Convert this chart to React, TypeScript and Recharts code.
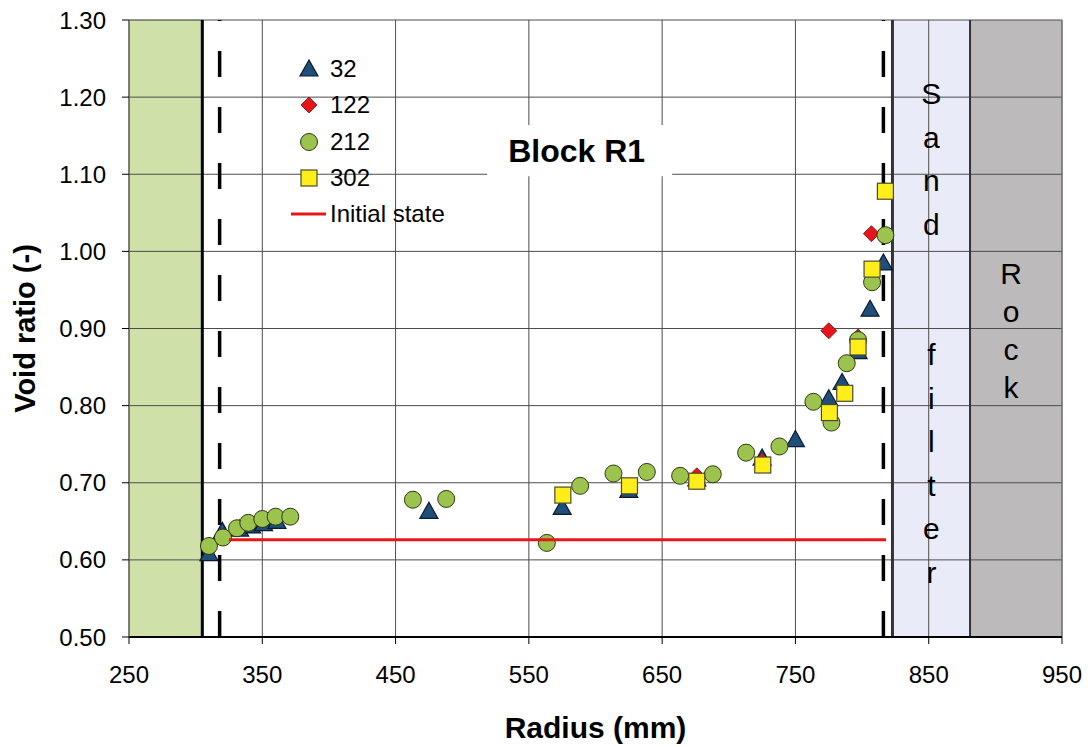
import React from 'react';
import {
  ScatterChart,
  Scatter,
  XAxis,
  YAxis,
  CartesianGrid,
  ReferenceArea,
  ReferenceLine,
  Legend,
  Label,
} from 'recharts';

const FONT = 'Arial, "Liberation Sans", Helvetica, sans-serif';

const xTicks = [250, 350, 450, 550, 650, 750, 850, 950];
const yTicks = [0.5, 0.6, 0.7, 0.8, 0.9, 1.0, 1.1, 1.2, 1.3];

// void ratio vs radius, one array per sampling day
const s32 = [
  { r: 310, e: 0.608 }, { r: 320, e: 0.637 }, { r: 333, e: 0.64 }, { r: 342, e: 0.644 },
  { r: 351, e: 0.647 }, { r: 361, e: 0.65 }, { r: 475, e: 0.663 }, { r: 575, e: 0.668 },
  { r: 625, e: 0.69 }, { r: 676, e: 0.705 }, { r: 725, e: 0.732 }, { r: 750, e: 0.756 },
  { r: 775, e: 0.809 }, { r: 785, e: 0.83 }, { r: 797, e: 0.87 }, { r: 806, e: 0.925 },
  { r: 816, e: 0.985 },
];
const s122 = [
  { r: 676, e: 0.709 }, { r: 725, e: 0.728 }, { r: 775, e: 0.897 }, { r: 797, e: 0.889 },
  { r: 807, e: 1.023 },
];
const s212 = [
  { r: 310, e: 0.618 }, { r: 320.5, e: 0.629 }, { r: 331, e: 0.641 }, { r: 339.5, e: 0.648 },
  { r: 350, e: 0.653 }, { r: 360, e: 0.656 }, { r: 371, e: 0.656 }, { r: 463, e: 0.678 },
  { r: 488, e: 0.679 }, { r: 563.5, e: 0.622 }, { r: 588.5, e: 0.696 }, { r: 613.5, e: 0.712 },
  { r: 638.5, e: 0.714 }, { r: 663.5, e: 0.709 }, { r: 688, e: 0.711 }, { r: 713, e: 0.739 },
  { r: 738, e: 0.747 }, { r: 763.5, e: 0.805 }, { r: 777, e: 0.778 }, { r: 788.5, e: 0.855 },
  { r: 797, e: 0.885 }, { r: 807.5, e: 0.96 }, { r: 817.5, e: 1.021 },
];
const s302 = [
  { r: 575.5, e: 0.684 }, { r: 625.5, e: 0.696 }, { r: 676, e: 0.702 }, { r: 725.5, e: 0.723 },
  { r: 775.5, e: 0.791 }, { r: 787, e: 0.816 }, { r: 797, e: 0.876 }, { r: 807.5, e: 0.977 },
  { r: 817.5, e: 1.078 },
];
const initialState = [{ r: 325, e: 0.626 }, { r: 818, e: 0.626 }];

const sandLetters = ['S', 'a', 'n', 'd', '', '', 'f', 'i', 'l', 't', 'e', 'r'];
const rockLetters = ['R', 'o', 'c', 'k'];

const Triangle = ({ cx, cy }: any) => (
  <polygon
    points={`${cx},${cy - 9} ${cx - 9},${cy + 7} ${cx + 9},${cy + 7}`}
    fill="#1f4e7a"
    stroke="#0b1a2c"
    strokeWidth={1.2}
  />
);
const Diamond = ({ cx, cy }: any) => (
  <polygon
    points={`${cx},${cy - 8} ${cx + 8},${cy} ${cx},${cy + 8} ${cx - 8},${cy}`}
    fill="#e8141b"
    stroke="#7a0d0d"
    strokeWidth={0.8}
  />
);
const Circle = ({ cx, cy }: any) => (
  <circle cx={cx} cy={cy} r={8.5} fill="#9bc34d" stroke="#2c3a12" strokeWidth={1} />
);
const Square = ({ cx, cy }: any) => (
  <rect x={cx - 8} y={cy - 8} width={16} height={16} fill="#ffee1a" stroke="#4a4a30" strokeWidth={1.2} />
);

const legendRows = [
  { name: '32', Shape: Triangle },
  { name: '122', Shape: Diamond },
  { name: '212', Shape: Circle },
  { name: '302', Shape: Square },
];

const renderLegend = () => (
  <div style={{ fontFamily: FONT, fontSize: 24, color: '#000', lineHeight: '36.3px' }}>
    {legendRows.map(({ name, Shape }) => (
      <div key={name} style={{ display: 'flex', alignItems: 'center', height: 36.3 }}>
        <svg width={40} height={36} style={{ display: 'block' }}>
          <Shape cx={19} cy={18} />
        </svg>
        <span>{name}</span>
      </div>
    ))}
    <div style={{ display: 'flex', alignItems: 'center', height: 36.3 }}>
      <svg width={40} height={36} style={{ display: 'block' }}>
        <line x1={1} y1={18} x2={36} y2={18} stroke="#e8161b" strokeWidth={3} />
      </svg>
      <span>Initial state</span>
    </div>
  </div>
);

const letterColumn = (letters: string[], first: number, step: number, dx: number) => (props: any) => {
  const { x, y, width } = props.viewBox;
  return (
    <text fontFamily={FONT} fontSize={30} fill="#000" textAnchor="middle">
      {letters.map((ch, i) =>
        ch ? (
          <tspan key={i} x={x + width / 2 + dx} y={y + first + i * step}>
            {ch}
          </tspan>
        ) : null
      )}
    </text>
  );
};

const blockLabel = (props: any) => {
  const { x, y, width, height } = props.viewBox;
  return (
    <text
      x={x + width / 2 - 3}
      y={y + height / 2 + 11}
      textAnchor="middle"
      fontFamily={FONT}
      fontSize={32}
      fontWeight="bold"
      fill="#000"
    >
      Block R1
    </text>
  );
};

const xTitle = (props: any) => {
  const { x, y, width } = props.viewBox;
  return (
    <text x={x + width / 2} y={y + 101} textAnchor="middle" fontFamily={FONT} fontSize={30} fontWeight="bold" fill="#000">
      Radius (mm)
    </text>
  );
};

const yTitle = (props: any) => {
  const { y, height } = props.viewBox;
  const cx = 27;
  const cy = y + height / 2;
  return (
    <text
      x={cx}
      y={cy}
      transform={`rotate(-90, ${cx}, ${cy})`}
      textAnchor="middle"
      fontFamily={FONT}
      fontSize={29}
      fontWeight="bold"
      fill="#000"
    >
      Void ratio (-)
    </text>
  );
};

export default function App() {
  return (
    <ScatterChart width={1082} height={739} margin={{ top: 12, right: 28, left: 0, bottom: 0 }}>
      <ReferenceArea x1={250} x2={305} fill="#cfe1a9" fillOpacity={1} stroke="#6f8a45" strokeWidth={0.5} zIndex={-200} />
      <ReferenceArea x1={823} x2={881} fill="#e9ecf8" fillOpacity={1} zIndex={-200} />
      <ReferenceArea x1={881} x2={950} fill="#bcbabb" fillOpacity={1} zIndex={-200} />
      <CartesianGrid stroke="#4d4d4d" strokeWidth={1} />
      <ReferenceArea
        x1={518.7}
        x2={657.5}
        y1={1.0975}
        y2={1.164}
        fill="#ffffff"
        fillOpacity={1}
        stroke="none"
        label={blockLabel}
      />
      <ReferenceArea x1={823} x2={881} fill="none" stroke="none" label={letterColumn(sandLetters, 84, 43.5, 0)} />
      <ReferenceArea x1={881} x2={950} fill="none" stroke="none" label={letterColumn(rockLetters, 264, 38, -5)} />
      <XAxis
        type="number"
        dataKey="r"
        domain={[250, 950]}
        ticks={xTicks}
        interval={0}
        height={110}
        tickSize={7}
        tickMargin={22}
        axisLine={{ stroke: '#000', strokeWidth: 2 }}
        tickLine={{ stroke: '#000' }}
        tick={{ fontSize: 24, fill: '#000', fontFamily: FONT }}
      >
        <Label content={xTitle} />
      </XAxis>
      <YAxis
        type="number"
        dataKey="e"
        domain={[0.5, 1.3]}
        ticks={yTicks}
        interval={0}
        width={121}
        tickSize={7}
        tickMargin={16}
        tickFormatter={(v: number) => v.toFixed(2)}
        axisLine={{ stroke: '#666' }}
        tickLine={{ stroke: '#000' }}
        tick={{ fontSize: 24, fill: '#000', fontFamily: FONT }}
      >
        <Label content={yTitle} />
      </YAxis>
      <ReferenceLine x={305} stroke="#000" strokeWidth={3} />
      <ReferenceLine x={318} stroke="#000" strokeWidth={3.5} strokeDasharray="26 30" />
      <ReferenceLine x={816} stroke="#000" strokeWidth={3.5} strokeDasharray="26 30" />
      <ReferenceLine x={822.8} stroke="#333" strokeWidth={3} />
      <ReferenceLine x={881} stroke="#333" strokeWidth={2} />
      <ReferenceLine x={950} stroke="#777" strokeWidth={1} />
      <Legend
        layout="vertical"
        align="center"
        verticalAlign="middle"
        wrapperStyle={{ left: 282, top: 43, width: 200 }}
        content={renderLegend}
      />
      <Scatter name="32" data={s32} shape={Triangle} isAnimationActive={false} />
      <Scatter name="122" data={s122} shape={Diamond} isAnimationActive={false} />
      <Scatter name="212" data={s212} shape={Circle} isAnimationActive={false} />
      <Scatter name="302" data={s302} shape={Square} isAnimationActive={false} />
      <Scatter
        name="Initial state"
        data={initialState}
        line={{ stroke: '#e8161b', strokeWidth: 3 }}
        shape={() => <g />}
        fill="#e8161b"
        isAnimationActive={false}
      />
    </ScatterChart>
  );
}
